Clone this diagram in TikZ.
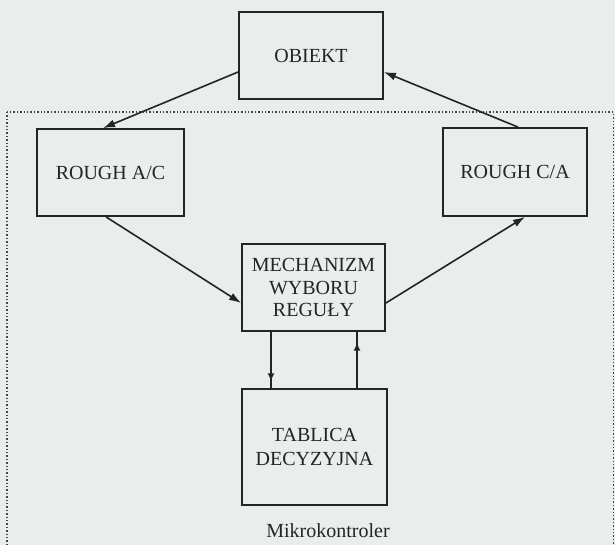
\documentclass[tikz,border=0pt]{standalone}
\usepackage{fontspec}
\setmainfont{Liberation Serif}
\usetikzlibrary{arrows.meta,decorations.markings}
\definecolor{paper}{RGB}{233,237,236}
\definecolor{ink}{RGB}{35,37,37}
\tikzset{
  box/.style={draw=ink, line width=1.8pt, rectangle, align=center, text=ink,
    font=\fontsize{20}{23}\selectfont, inner sep=0pt},
  conn/.style={draw=ink, line width=1.6pt, -{Latex[length=12pt,width=8pt]}},
  plainline/.style={draw=ink, line width=1.6pt},
  midtip/.style={postaction={decorate}, decoration={markings,
    mark=at position #1 with {\arrow{Latex[length=8pt,width=7pt]}}}},
  frame/.style={draw=ink!85, line width=1.4pt, dotted}
}
\begin{document}
\begin{tikzpicture}[x=1pt,y=-1pt]
\fill[paper] (0,0) rectangle (615,545);
\useasboundingbox (0,0) rectangle (615,545);
\begin{scope}
  \clip (0,0) rectangle (615,545);
  \draw[frame] (7,112) rectangle (613.5,560);
\end{scope}
\node[box, minimum width=144pt, minimum height=87pt] (obiekt) at (311,55.5) {OBIEKT};
\node[box, minimum width=147pt, minimum height=87pt] (rac) at (110.5,172.5) {ROUGH A/C};
\node[box, minimum width=144pt, minimum height=88pt] (rca) at (515,172) {ROUGH C/A};
\node[box, minimum width=143pt, minimum height=87pt, font=\fontsize{20}{22.5}\selectfont] (mech) at (313.5,287.5) {MECHANIZM\\WYBORU\\REGUŁY};
\node[box, minimum width=145pt, minimum height=116pt, font=\fontsize{20}{24}\selectfont] (tab) at (314.5,447) {TABLICA\\DECYZYJNA};
\node[text=ink, font=\fontsize{20}{23}\selectfont, inner sep=0pt] (mk) at (328,531) {Mikrokontroler};

\draw[conn] ([yshift=-16.5pt]obiekt.west) -- ([xshift=-7.5pt]rac.north);
\draw[conn] ([xshift=3pt]rca.north) -- ([yshift=-16.5pt]obiekt.east);
\draw[conn] ([xshift=-4.5pt]rac.south) -- ([yshift=-15.5pt]mech.west);
\draw[conn] ([yshift=-15.5pt]mech.east) -- ([xshift=10pt]rca.south);
\coordinate (l1) at ([xshift=-42.5pt]mech.south);
\coordinate (r1) at ([xshift=43.5pt]mech.south);
\draw[plainline, midtip=0.88] (l1) -- (l1 |- tab.north);
\draw[plainline, midtip=0.81] (r1 |- tab.north) -- (r1);
\end{tikzpicture}
\end{document}
